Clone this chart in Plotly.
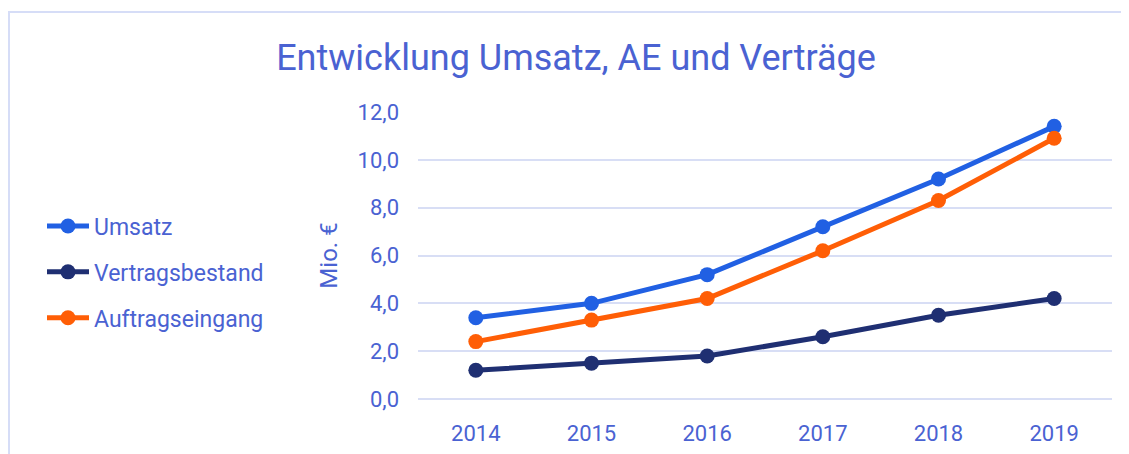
import plotly.graph_objects as go

years = ["2014", "2015", "2016", "2017", "2018", "2019"]
umsatz = [3.4, 4.0, 5.2, 7.2, 9.2, 11.4]
vertragsbestand = [1.2, 1.5, 1.8, 2.6, 3.5, 4.2]
auftragseingang = [2.4, 3.3, 4.2, 6.2, 8.3, 10.9]

series = [
    ("Umsatz", umsatz, "#2160e3"),
    ("Vertragsbestand", vertragsbestand, "#1f2f72"),
    ("Auftragseingang", auftragseingang, "#ff5e06"),
]

TXT = "#4a62d2"
GRID = "#d8def5"
FONT = "Roboto, Inter, sans-serif"

fig = go.Figure()
for name, vals, col in series:
    fig.add_trace(go.Scatter(
        x=years, y=vals, name=name, mode="lines+markers",
        line=dict(color=col, width=5),
        marker=dict(color=col, size=15),
        legendgroup=name, cliponaxis=False,
    ))

# page body has an 8px margin, so figure coords = screen coords - 8
OFF = 8
W, H = 1129 - OFF, 454 - OFF
L, R, T, B = 418 - OFF, 17, 112 - OFF, 55
pw, ph = W - L - R, H - T - B

def px(x):
    return (x - OFF - L) / pw

def py(y):
    return (H - B - (y - OFF)) / ph

fig.update_layout(
    width=W, height=H,
    margin=dict(l=L, r=R, t=T, b=B),
    paper_bgcolor="white", plot_bgcolor="white",
    separators=",.",
    font=dict(family=FONT, color=TXT, size=22),
    title=dict(text="Entwicklung Umsatz, AE und Verträge", x=px(576), xanchor="center",
               xref="paper", y=1 - (57 - OFF) / H, yanchor="middle",
               font=dict(size=36, color=TXT, family=FONT)),
    xaxis=dict(showgrid=False, showline=False, ticks="", tickfont=dict(size=22, color=TXT),
               range=[-0.5, 5.5], ticklabelstandoff=19, automargin=False),
    yaxis=dict(range=[0, 12], dtick=2, tickformat=".1f", showgrid=True,
               gridcolor=GRID, gridwidth=2, zeroline=True, zerolinecolor=GRID,
               zerolinewidth=2, showline=False,
               ticks="", tickfont=dict(size=22, color=TXT), ticklabelstandoff=18,
               automargin=False,
               title=dict(text="Mio. €", standoff=13, font=dict(size=24, color=TXT))),
    legend=dict(x=px(42), xanchor="left", y=py(272), yanchor="middle",
                font=dict(size=23, color=TXT), traceorder="grouped",
                tracegroupgap=13, bgcolor="rgba(0,0,0,0)", itemwidth=42),
    showlegend=True,
    shapes=[dict(type="rect", xref="paper", yref="paper",
                 x0=px(9), x1=px(1140), y0=py(470), y1=py(12),
                 line=dict(color="#d6ddf7", width=2), fillcolor="rgba(0,0,0,0)", layer="below")],
)

fig.write_html("out.html")
